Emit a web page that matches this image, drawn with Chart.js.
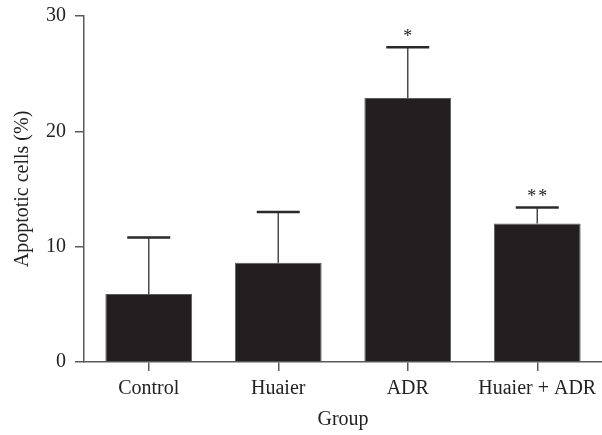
<!DOCTYPE html>
<html>
<head>
<meta charset="utf-8">
<script src="https://cdn.jsdelivr.net/npm/chart.js@4"></script>
<style>
html,body{margin:0;padding:0;background:#fff;}
#wrap{width:602px;height:435px;position:relative;}
</style>
</head>
<body>
<div id="wrap"><canvas id="c" width="602" height="435"></canvas></div>
<script>
const categories = ["Control", "Huaier", "ADR", "Huaier + ADR"];
const means = [5.9, 8.6, 22.9, 12.0];
const errors = [4.9, 4.4, 4.4, 1.4];
const marks = ["", "", "*", "**"];
const yTicks = [0, 10, 20, 30];

const FONT = "'Liberation Serif', 'DejaVu Serif', serif";

const errorBarPlugin = {
  id: 'errorBars',
  afterDatasetsDraw(chart) {
    const ctx = chart.ctx;
    const meta = chart.getDatasetMeta(0);
    const y = chart.scales.y;
    ctx.save();
    meta.data.forEach((bar, i) => {
      const x = bar.x;
      const top = y.getPixelForValue(means[i]);
      const hi = y.getPixelForValue(means[i] + errors[i]);
      ctx.strokeStyle = '#4a4a4a';
      ctx.lineWidth = 1.5;
      ctx.beginPath();
      ctx.moveTo(x, top);
      ctx.lineTo(x, hi);
      ctx.stroke();
      ctx.strokeStyle = '#2a2a2a';
      ctx.lineWidth = 2.5;
      ctx.beginPath();
      ctx.moveTo(x - 21.5, hi);
      ctx.lineTo(x + 21.5, hi);
      ctx.stroke();
      if (marks[i]) {
        ctx.fillStyle = '#222';
        ctx.font = "18px " + FONT;
        ctx.textAlign = 'center';
        ctx.textBaseline = 'alphabetic';
        const n = marks[i].length;
        const gap = 11;
        for (let k = 0; k < n; k++) {
          const cx = x + (k - (n - 1) / 2) * gap;
          ctx.fillText(marks[i][k], cx, hi - 5);
        }
      }
    });
    ctx.restore();
  }
};

new Chart(document.getElementById('c'), {
  type: 'bar',
  data: {
    labels: categories,
    datasets: [{
      data: means,
      backgroundColor: '#231f20',
      borderColor: '#5a5a5a',
      borderWidth: 1,
      barPercentage: 0.67,
      categoryPercentage: 1.0
    }]
  },
  options: {
    responsive: false,
    animation: false,
    layout: { padding: { top: 16, right: 0, left: 0, bottom: 0 } },
    plugins: { legend: { display: false }, tooltip: { enabled: false } },
    scales: {
      x: {
        grid: { display: true, offset: false, drawOnChartArea: false, drawTicks: true, tickLength: 9, color: '#5a5a5a', lineWidth: 1.5 },
        border: { display: true, color: '#5a5a5a', width: 1.5 },
        ticks: { color: '#222', font: { family: FONT, size: 20 }, padding: 6, maxRotation: 0, autoSkip: false },
        title: { display: true, text: 'Group', color: '#222', font: { family: FONT, size: 20 }, padding: { top: 3, bottom: 3 } },
        afterFit(scale) { scale.height = 73; scale.paddingLeft = 0; scale.paddingRight = 0; }
      },
      y: {
        min: 0, max: 30,
        afterBuildTicks(scale) { scale.ticks = yTicks.map(v => ({ value: v })); },
        grid: { display: true, drawOnChartArea: false, drawTicks: true, tickLength: 9, color: '#5a5a5a', lineWidth: 1.5 },
        border: { display: true, color: '#5a5a5a', width: 1.5 },
        ticks: { color: '#222', font: { family: FONT, size: 20 }, padding: 9 },
        title: { display: true, text: 'Apoptotic cells (%)', color: '#222', font: { family: FONT, size: 20 }, padding: { top: 11, bottom: 0 } },
        afterFit(scale) { scale.width = 84; scale.paddingTop = 0; scale.paddingBottom = 0; }
      }
    }
  },
  plugins: [errorBarPlugin]
});
</script>
</body>
</html>
